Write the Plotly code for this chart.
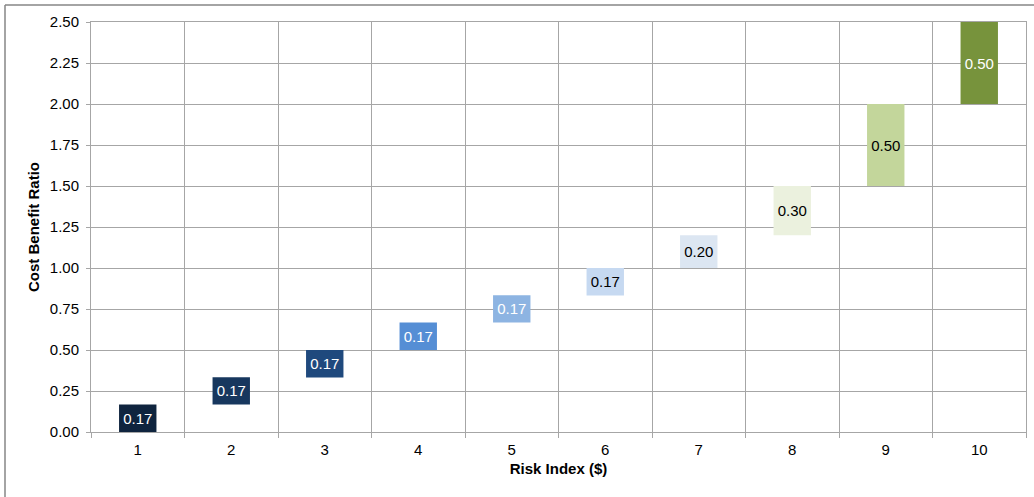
import plotly.graph_objects as go

categories = ["1", "2", "3", "4", "5", "6", "7", "8", "9", "10"]
bar_base = [0.0, 0.167, 0.333, 0.5, 0.667, 0.833, 1.0, 1.2, 1.5, 2.0]
bar_height = [0.167, 0.167, 0.167, 0.167, 0.167, 0.167, 0.2, 0.3, 0.5, 0.5]
bar_colors = ["#0F243E", "#17375E", "#1F497D", "#558ED5", "#8DB4E2",
              "#C6D9F1", "#DCE6F2", "#EBF1DE", "#C3D69B", "#77933C"]
label_colors = ["white", "white", "white", "white", "white",
                "black", "black", "black", "black", "white"]
y_ticks = [0.0, 0.25, 0.5, 0.75, 1.0, 1.25, 1.5, 1.75, 2.0, 2.25, 2.5]

FONT = "Liberation Sans, Arial, sans-serif"
GRID = "#A6A6A6"
FS = 15

fig = go.Figure()
fig.add_trace(go.Bar(
    x=categories,
    y=bar_height,
    base=bar_base,
    width=0.4,
    marker=dict(color=bar_colors, line=dict(width=0)),
    text=[f"{v:.2f}" for v in bar_height],
    textposition="inside",
    insidetextanchor="middle",
    textangle=0,
    constraintext="none",
    textfont=dict(family=FONT, size=FS, color=label_colors),
    hoverinfo="skip",
))

W, H = 1034, 497
L, R, T, B = 91, 8, 22, 65
pw, ph = W - L - R, H - T - B

def px_to_paper_x(px):
    return (px - L) / pw

def px_to_paper_y(py):
    return (H - B - py) / ph

fig.update_layout(
    width=W, height=H,
    margin=dict(l=L, r=R, t=T, b=B, pad=0),
    paper_bgcolor="white",
    plot_bgcolor="white",
    showlegend=False,
    font=dict(family=FONT, size=FS, color="black"),
    xaxis=dict(
        type="category",
        tickson="boundaries",
        showgrid=True, gridcolor=GRID, gridwidth=1,
        showline=True, linecolor=GRID, linewidth=1, mirror=True,
        ticks="outside", ticklen=5, tickcolor=GRID,
        ticklabelstandoff=4,
        tickfont=dict(family=FONT, size=FS, color="black"),
        title=dict(text="<b>Risk Index ($)</b>", font=dict(family=FONT, size=FS), standoff=6),
        zeroline=False,
    ),
    yaxis=dict(
        range=[0, 2.5],
        tickvals=y_ticks,
        tickformat=".2f",
        showgrid=True, gridcolor=GRID, gridwidth=1,
        showline=True, linecolor=GRID, linewidth=1, mirror=True,
        ticks="outside", ticklen=4, tickcolor=GRID,
        ticklabelstandoff=4,
        tickfont=dict(family=FONT, size=FS, color="black"),
        title=dict(text="<b>Cost Benefit Ratio</b>", font=dict(family=FONT, size=FS), standoff=6),
        zeroline=False,
    ),
    shapes=[
        dict(type="line", xref="paper", yref="paper",
             x0=px_to_paper_x(5), x1=px_to_paper_x(1040),
             y0=px_to_paper_y(5), y1=px_to_paper_y(5),
             line=dict(color="#868686", width=1.5)),
        dict(type="line", xref="paper", yref="paper",
             x0=px_to_paper_x(5), x1=px_to_paper_x(5),
             y0=px_to_paper_y(5), y1=px_to_paper_y(505),
             line=dict(color="#868686", width=1.5)),
    ],
)

fig.write_html("out.html")
